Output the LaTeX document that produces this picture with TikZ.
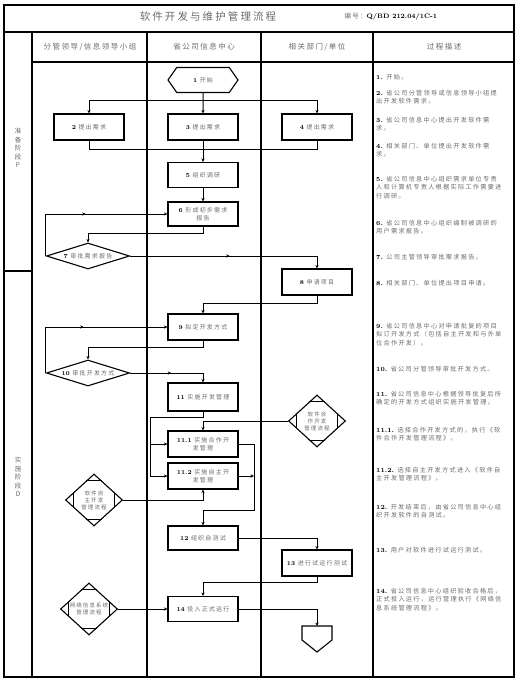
\documentclass[tikz,border=0pt]{standalone}
\usepackage{fontspec}
\usepackage{xcolor}
\usetikzlibrary{calc,positioning,shapes.geometric,shapes.symbols,arrows.meta,decorations.markings}
\newfontfamily\cjk{Noto Sans CJK SC}[LetterSpace=20]
\definecolor{txtgray}{gray}{0.42}
\newcommand{\stepno}[1]{{\normalfont\bfseries\color{black}#1}}
\tikzset{
  frame/.style={line width=1.3pt},
  procbox/.style={draw, line width=1.1pt, minimum width=70, minimum height=26, inner sep=1pt,
    align=center, text=txtgray, font=\cjk\fontsize{6}{7.5}\selectfont},
  terminal/.style={procbox, signal, signal to=east and west, signal pointer angle=110, minimum height=25},
  decision/.style={diamond, draw, line width=1.1pt, minimum width=83, minimum height=26, aspect=3.2,
    inner sep=0pt, text=txtgray, font=\cjk\fontsize{6}{7.5}\selectfont},
  subflow/.style={diamond, draw, line width=1.1pt, minimum width=57, minimum height=52, aspect=1.1,
    inner sep=0pt, align=center, text=txtgray, font=\cjk\fontsize{5.5}{7}\selectfont},
  header/.style={text=txtgray, font=\cjk\fontsize{7.5}{9}\selectfont},
  desc/.style={anchor=north west, inner sep=0pt, align=left, text=txtgray, font=\cjk\fontsize{6.2}{8.5}\selectfont},
  stage/.style={align=center, text=txtgray, font=\cjk\fontsize{6.5}{8.6}\selectfont},
  link/.style={line width=1pt},
  midarrow/.style={postaction={decorate}, decoration={markings, mark=at position 0.5 with {\arrow{>}}}}
}
\begin{document}
\begin{tikzpicture}[x=1pt, y=-1pt, >={Stealth[length=3.5pt,width=3.2pt]}]
	\useasboundingbox (0,0) rectangle (523,687);
	
	% =========================================================
	% Frame and headers
	% =========================================================
	\draw[frame] (4,5) rectangle (514,677);
	\draw[frame] (4,32) -- (514,32);
	\draw[frame] (32,62) -- (514,62);
	\draw[frame] (4,271) -- (32,271);
	\foreach \x in {32,147,261,373}
		\draw[frame] (\x,32) -- (\x,677);
	
	% Title
	\node[text=txtgray, font=\cjk\fontsize{10.5}{12}\selectfont] (title) at (208,17) {软件开发与维护管理流程};
	\node[text=txtgray, font=\cjk\fontsize{6.5}{8}\selectfont, anchor=west] (code) at (341,17)
		{编号：\stepno{Q/BD 212.04/1C-1}};
	
	% Column heads
	\node[header] (h1) at (90,47) {分管领导/信息领导小组};
	\node[header] (h2) at (204,47) {省公司信息中心};
	\node[header] (h3) at (317,47) {相关部门/单位};
	\node[header] (h4) at (444,47) {过程描述};
	
	% Stages
	\node[stage] (sp) at (18,148) {准\\备\\阶\\段\\P};
	\node[stage] (sd) at (18,477) {实\\施\\阶\\段\\D};
	
	% =========================================================
	% Flow nodes
	% =========================================================
	\node[terminal] (n1) at (203,80) {\stepno{1} 开始};
	\node[procbox] (n2) at (89,127) {\stepno{2} 提出需求};
	\node[procbox] (n3) at (203,127) {\stepno{3} 提出需求};
	\node[procbox] (n4) at (317,127) {\stepno{4} 提出需求};
	\node[procbox, minimum height=25] (n5) at (203,175) {\stepno{5} 组织调研};
	\node[procbox, minimum height=24] (n6) at (203,214) {\stepno{6} 形成初步需求\\报告};
	\node[decision] (d7) at (88,256) {\stepno{7} 审批需求报告};
	\node[procbox] (n8) at (317,282) {\stepno{8} 申请项目};
	\node[procbox] (n9) at (203,327) {\stepno{9} 拟定开发方式};
	\node[decision] (d10) at (88,373) {\stepno{10} 审批开发方式};
	\node[procbox, minimum height=28] (n11) at (203,397) {\stepno{11} 实施开发管理};
	\node[procbox] (n111) at (203,444) {\stepno{11.1} 实施合作开\\发管理};
	\node[procbox] (n112) at (203,476) {\stepno{11.2} 实施自主开\\发管理};
	\node[subflow] (dh) at (317,421) {软件合\\作开发\\管理流程};
	\node[subflow] (dz) at (94,500) {软件自\\主开发\\管理流程};
	\node[procbox, minimum height=24] (n12) at (203,538) {\stepno{12} 组织自测试};
	\node[procbox] (n13) at (317,563) {\stepno{13} 进行试运行测试};
	\node[procbox, minimum height=25] (n14) at (203,609) {\stepno{14} 投入正式运行};
	\node[subflow] (dw) at (89,609) {网络信息系统\\管理流程};
	
	% End (off-page mark)
	\coordinate (nend) at (317,626);
	\draw[line width=1.1pt] (nend) -- ++(15,0) -- ++(0,14) -- ++(-15,12) -- ++(-15,-12) -- ++(0,-14) -- cycle;
	
	% Corner marks of the sub-flow diamonds
	\foreach \d in {dh,dz,dw} {
		\draw[line width=1.1pt] ($(\d.north)!0.28!(\d.west)$) -- ($(\d.north)!0.28!(\d.east)$);
		\draw[line width=1.1pt] ($(\d.south)!0.28!(\d.west)$) -- ($(\d.south)!0.28!(\d.east)$);
		\draw[line width=1.1pt] ($(\d.west)!0.28!(\d.north)$) -- ($(\d.west)!0.28!(\d.south)$);
		\draw[line width=1.1pt] ($(\d.east)!0.28!(\d.north)$) -- ($(\d.east)!0.28!(\d.south)$);
	}
	
	% =========================================================
	% Connectors
	% =========================================================
	\coordinate (split) at (203,101);
	\coordinate (join) at (203,150);
	\draw[link,->] (n1) -- (n3);
	\draw[link,->] (split) -| (n2);
	\draw[link,->] (split) -| (n4);
	\draw[link] (n2.south) |- (join);
	\draw[link] (n4.south) |- (join);
	\draw[link,->] (n3) -- (n5);
	\draw[link,->] (n5) -- (n6);
	\draw[link,->] (n6.south) -- ++(0,7) -| (d7.north);
	\draw[link,->,midarrow] (d7.west) |- (n6.west);
	\draw[link,->,midarrow] (d7.east) -| (n8.north);
	\draw[link,->] (n8.south) -- ++(0,8) -| (n9.north);
	\draw[link,->] (n9.south) -- ++(0,7) -| (d10.north);
	\draw[link,->,midarrow] (d10.west) |- (n9.west);
	\draw[link,->,midarrow] (d10.east) -| (n11.north);
	
	% Sub-processes of 11
	\draw[link,->] (n11.south) -- ++(0,6) -| ([xshift=-17pt]n111.west) -- (n111.west);
	\draw[link,->] ([xshift=-17pt]n111.west) -- ([xshift=-17pt]n112.west) -- (n112.west);
	\draw[link,->] (dh.west) -| (n111.north);
	\draw[link,->] (dz.east) -| (n112.south);
	\coordinate (merge) at (254,510);
	\draw[link,->] (n111.east) -| (merge) -| (n12.north);
	\draw[link,->] (n112.east) -- (n112.east -| merge);
	
	% Tests and operation
	\draw[link,->] (n12.east) -| (n13.north);
	\draw[link,->] (n13.south) -- ++(0,6) -| (n14.north);
	\draw[link,->] (dw.east) -- (n14.west);
	\draw[link,->] (n14.east) -| (nend);
	
	% =========================================================
	% Process description
	% =========================================================
	\foreach \ty/\txt [count=\i] in {
		74/{\stepno{1.} 开始。},
		90/{\stepno{2.} 省公司分管领导或信息领导小组提\\出开发软件需求。},
		117/{\stepno{3.} 省公司信息中心提出开发软件需\\求。},
		143/{\stepno{4.} 相关部门、单位提出开发软件需\\求。},
		176/{\stepno{5.} 省公司信息中心组织需求单位专责\\人和计算机专责人根据实际工作需要进\\行调研。},
		220/{\stepno{6.} 省公司信息中心组织编制被调研的\\用户需求报告。},
		254/{\stepno{7.} 公司主管领导审批需求报告。},
		280/{\stepno{8.} 相关部门、单位提出项目申请。},
		323/{\stepno{9.} 省公司信息中心对申请批复的项目\\拟订开发方式（包括自主开发和与外单\\位合作开发）。},
		366/{\stepno{10.} 省公司分管领导审批开发方式。},
		391/{\stepno{11.} 省公司信息中心根据领导批复后所\\确定的开发方式组织实施开发管理。},
		427/{\stepno{11.1.} 选择合作开发方式的，执行《软\\件合作开发管理流程》。},
		467/{\stepno{11.2.} 选择自主开发方式进入《软件自\\主开发管理流程》。},
		504/{\stepno{12.} 开发结束后，由省公司信息中心组\\织开发软件的自测试。},
		547/{\stepno{13.} 用户对软件进行试运行测试。},
		588/{\stepno{14.} 省公司信息中心组织验收合格后，\\正式投入运行，运行管理执行《网络信\\息系统管理流程》。}}
		\node[desc] (desc\i) at (376,\ty) {\txt};
	
\end{tikzpicture}
\end{document}
